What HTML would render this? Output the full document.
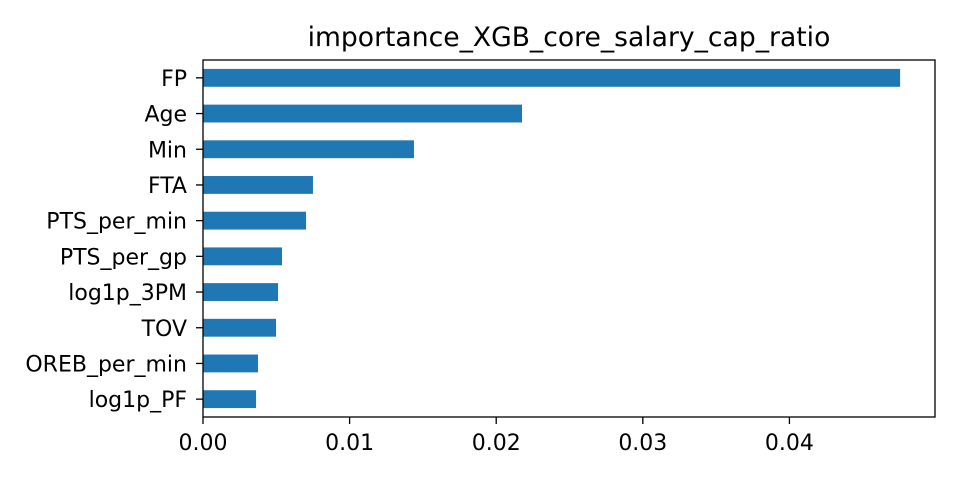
<!DOCTYPE html>
<html><head><meta charset="utf-8"><style>
body{margin:0;background:#fff;}
svg text{font-family:"DejaVu Sans","Liberation Sans",sans-serif;fill:#000;}
</style></head><body>
<svg id="chart" width="960" height="480">
<text x="569" y="46" font-size="26.6" text-anchor="middle">importance_XGB_core_salary_cap_ratio</text>
<g id="bars"></g><g id="yticks"></g><g id="xticks"></g>
<rect x="203" y="60" width="732" height="357" fill="none" stroke="#000" stroke-width="1.3"/>
</svg>
<script>
const categories=["FP","Age","Min","FTA","PTS_per_min","PTS_per_gp","log1p_3PM","TOV","OREB_per_min","log1p_PF"];
const values=[0.04755,0.02176,0.01439,0.0075,0.00703,0.00539,0.00512,0.00498,0.00375,0.00362];
const xTicks=[0,0.01,0.02,0.03,0.04];
const xTickLabels=["0.00","0.01","0.02","0.03","0.04"];
const L=203,R=935,T=60,B=417,xmax=0.04993;
const x=v=>L+v/xmax*(R-L);
const step=(B-T)/categories.length;
const y=i=>T+step*(i+0.5);
const ns="http://www.w3.org/2000/svg";
const bars=document.getElementById('bars'),yt=document.getElementById('yticks'),xt=document.getElementById('xticks');
categories.forEach((c,i)=>{
 const r=document.createElementNS(ns,'rect');
 r.setAttribute('x',L);r.setAttribute('y',y(i)-step*0.25);
 r.setAttribute('width',x(values[i])-L);r.setAttribute('height',step*0.5);
 r.setAttribute('fill','#1f77b4');
 
 
 bars.appendChild(r);
 const l=document.createElementNS(ns,'line');
 l.setAttribute('x1',L-7);l.setAttribute('x2',L);l.setAttribute('y1',y(i));l.setAttribute('y2',y(i));l.setAttribute('stroke','#000');l.setAttribute('stroke-width','1.3');
 yt.appendChild(l);
 const t=document.createElementNS(ns,'text');
 t.setAttribute('x',L-16);t.setAttribute('y',y(i)+8);t.setAttribute('font-size','22');t.setAttribute('text-anchor','end');
 t.textContent=c;
 
 
 yt.appendChild(t);
});
xTicks.forEach((v,i)=>{
 const l=document.createElementNS(ns,'line');
 l.setAttribute('x1',x(v));l.setAttribute('x2',x(v));l.setAttribute('y1',B);l.setAttribute('y2',B+7);l.setAttribute('stroke','#000');l.setAttribute('stroke-width','1.3');
 xt.appendChild(l);
 const t=document.createElementNS(ns,'text');
 t.setAttribute('x',x(v));t.setAttribute('y',B+33);t.setAttribute('font-size','22');t.setAttribute('text-anchor','middle');
 t.textContent=xTickLabels[i];
 
 
 xt.appendChild(t);
});
</script>
</body></html>
